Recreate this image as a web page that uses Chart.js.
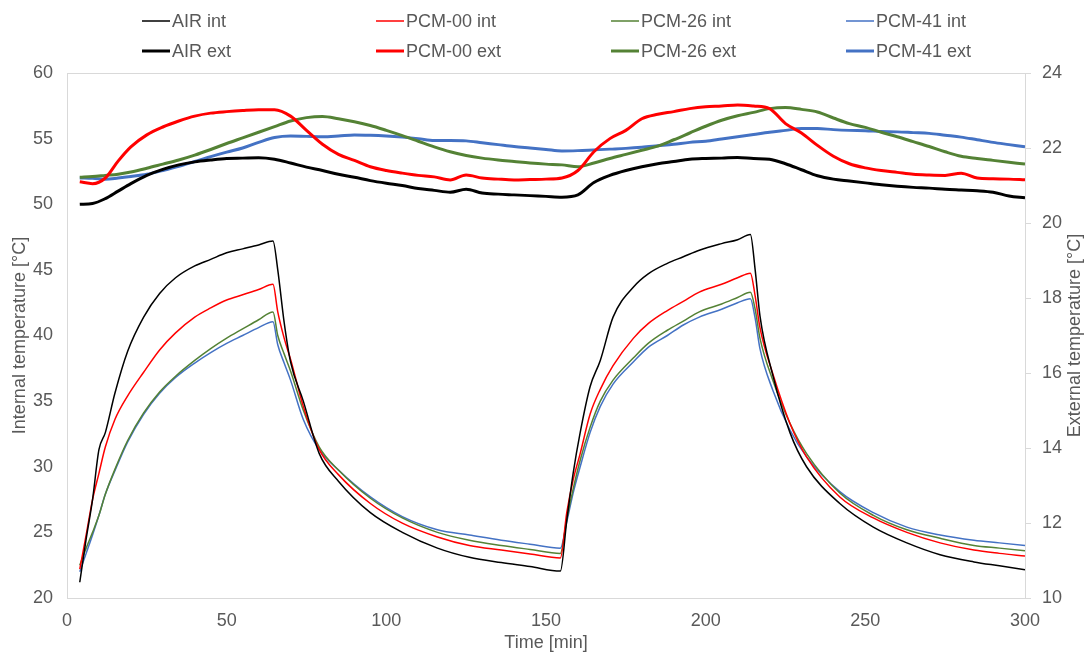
<!DOCTYPE html>
<html>
<head>
<meta charset="utf-8">
<script src="https://cdn.jsdelivr.net/npm/chart.js@4/dist/chart.umd.min.js"></script>
<style>
  html, body { margin: 0; padding: 0; background: #fff; }
  #wrap { width: 1086px; height: 654px; position: relative; }
</style>
</head>
<body>
<div id="wrap"><canvas id="chart"></canvas></div>
<script>
/* Internal temperatures (left axis), time in minutes */
const timeInt = [4, 6, 8, 10, 12, 15, 19, 24, 29, 34, 40, 45, 50, 55, 60, 64.5, 66, 68, 70, 74, 79, 85, 95, 105, 116, 126, 136, 145, 154.5,
    156.5, 158.5, 160.7, 163.8, 167, 171, 177.4, 182, 188, 193, 198, 205, 210, 214, 215.5, 217, 221, 226.4, 231.6, 242, 252.5, 263, 273.4, 284, 292, 300];
const airInt = [21.2, 24.5, 27.5, 31.3, 32.6, 35.6, 38.8, 41.4, 43.2, 44.4, 45.3, 45.8, 46.3, 46.6, 46.9, 47.2, 45.0, 41.0, 38.0, 35.0, 31.0, 28.9, 26.5, 25.0, 23.8, 23.1, 22.7, 22.4, 22.05,
    25.9, 29.5, 32.6, 36.1, 38.1, 41.4, 43.7, 44.7, 45.5, 46.0, 46.5, 47.0, 47.3, 47.7, 45.0, 41.5, 37.0, 32.6, 30.0, 27.2, 25.4, 24.2, 23.3, 22.75, 22.45, 22.15];
const pcm00Int = [22.2, 24.8, 27.5, 29.5, 31.5, 33.6, 35.4, 37.2, 38.9, 40.2, 41.4, 42.1, 42.7, 43.1, 43.5, 43.9, 41.8, 39.8, 38.2, 34.6, 31.3, 29.4, 27.2, 25.7, 24.65, 24.0, 23.65, 23.35, 23.05,
    26.5, 29.0, 31.0, 34.0, 35.9, 37.7, 39.8, 40.9, 41.9, 42.6, 43.3, 43.9, 44.4, 44.75, 43.0, 40.6, 37.1, 33.3, 30.75, 27.7, 26.1, 25.0, 24.2, 23.65, 23.4, 23.2];
const pcm26Int = [22.5, 23.8, 25.0, 26.3, 27.9, 29.8, 32.0, 34.1, 35.7, 36.9, 38.1, 39.0, 39.8, 40.5, 41.2, 41.8, 40.0, 38.6, 37.3, 34.3, 31.5, 29.75, 27.6, 26.1, 25.0, 24.4, 24.0, 23.7, 23.4,
    26.0, 28.3, 30.5, 33.0, 35.0, 36.6, 38.3, 39.4, 40.4, 41.1, 41.8, 42.4, 42.9, 43.3, 42.0, 39.8, 36.6, 33.3, 31.0, 28.0, 26.3, 25.2, 24.55, 24.0, 23.8, 23.6];
const pcm41Int = [22.0, 23.4, 24.8, 26.3, 27.9, 29.7, 31.9, 34.0, 35.6, 36.8, 37.9, 38.7, 39.4, 40.0, 40.6, 41.05, 39.3, 37.9, 36.6, 33.6, 31.3, 29.75, 27.7, 26.2, 25.2, 24.8, 24.4, 24.1, 23.8,
    25.8, 28.0, 30.0, 32.6, 34.6, 36.3, 38.0, 39.1, 40.0, 40.8, 41.4, 42.0, 42.5, 42.8, 41.3, 39.0, 35.85, 32.8, 30.75, 28.1, 26.5, 25.4, 24.8, 24.4, 24.2, 24.0];

/* External temperatures (right axis) */
const timeExt = [4, 8, 12, 16, 20, 25, 30, 35, 40, 45, 50, 55, 60, 65, 70, 75, 80, 85, 90, 95, 100, 105, 110, 115, 120, 125, 130, 135, 140, 145, 150,
    155, 160, 165, 170, 175, 180, 185, 190, 195, 200, 205, 210, 215, 220, 225, 230, 235, 240, 245, 250, 255, 260, 265, 270, 275, 280, 285, 290, 295, 300];
const airExt = [20.50, 20.52, 20.65, 20.85, 21.05, 21.27, 21.43, 21.55, 21.63, 21.68, 21.72, 21.73, 21.74, 21.70, 21.60, 21.49, 21.40, 21.30, 21.22, 21.13, 21.06, 21.00, 20.92, 20.87, 20.82, 20.90, 20.80, 20.77, 20.75, 20.73, 20.71,
    20.69, 20.75, 21.08, 21.27, 21.40, 21.50, 21.58, 21.64, 21.70, 21.72, 21.73, 21.75, 21.72, 21.70, 21.58, 21.42, 21.26, 21.17, 21.12, 21.07, 21.02, 20.98, 20.95, 20.93, 20.90, 20.88, 20.86, 20.82, 20.72, 20.67];
const pcm00Ext = [21.10, 21.05, 21.20, 21.65, 22.03, 22.35, 22.56, 22.72, 22.85, 22.93, 22.97, 23.00, 23.02, 23.02, 22.85, 22.47, 22.10, 21.83, 21.67, 21.50, 21.40, 21.33, 21.27, 21.23, 21.15, 21.28, 21.20, 21.17, 21.15, 21.16, 21.17,
    21.20, 21.40, 21.90, 22.25, 22.47, 22.78, 22.90, 22.97, 23.05, 23.10, 23.12, 23.15, 23.12, 23.05, 22.65, 22.40, 22.07, 21.78, 21.58, 21.47, 21.40, 21.35, 21.30, 21.28, 21.27, 21.33, 21.20, 21.18, 21.17, 21.15];
const pcm26Ext = [21.22, 21.24, 21.27, 21.30, 21.36, 21.46, 21.57, 21.68, 21.81, 21.96, 22.12, 22.27, 22.42, 22.57, 22.72, 22.81, 22.84, 22.78, 22.70, 22.60, 22.47, 22.33, 22.18, 22.03, 21.90, 21.80, 21.73, 21.68, 21.64, 21.60, 21.57,
    21.55, 21.50, 21.60, 21.72, 21.83, 21.94, 22.05, 22.22, 22.40, 22.58, 22.74, 22.86, 22.95, 23.05, 23.08, 23.03, 22.96, 22.80, 22.65, 22.55, 22.42, 22.30, 22.17, 22.04, 21.90, 21.78, 21.72, 21.67, 21.62, 21.57];
const pcm41Ext = [21.20, 21.19, 21.17, 21.20, 21.24, 21.30, 21.40, 21.51, 21.64, 21.77, 21.89, 22.00, 22.15, 22.28, 22.32, 22.31, 22.30, 22.32, 22.35, 22.34, 22.32, 22.29, 22.25, 22.20, 22.20, 22.19, 22.14, 22.09, 22.04, 22.00, 21.96,
    21.92, 21.93, 21.95, 21.97, 21.99, 22.02, 22.06, 22.10, 22.15, 22.18, 22.24, 22.30, 22.36, 22.42, 22.47, 22.52, 22.52, 22.49, 22.47, 22.46, 22.44, 22.43, 22.41, 22.39, 22.34, 22.29, 22.22, 22.15, 22.09, 22.03];

const seriesNames = ["AIR int", "PCM-00 int", "PCM-26 int", "PCM-41 int", "AIR ext", "PCM-00 ext", "PCM-26 ext", "PCM-41 ext"];
const seriesColors = ["#000000", "#ff0000", "#548235", "#4472c4"];

const FONT = "'Liberation Sans', Arial, sans-serif";
const TEXT = "#595959";
const AXIS = "#d9d9d9";

function pts(times, vals) {
    return times.map((t, i) => ({ x: t, y: vals[i] }));
}

const intData = [airInt, pcm00Int, pcm26Int, pcm41Int];
const extData = [airExt, pcm00Ext, pcm26Ext, pcm41Ext];

const datasets = [];
intData.forEach((vals, i) => {
    datasets.push({
        label: seriesNames[i], data: pts(timeInt, vals), yAxisID: "y",
        borderColor: seriesColors[i], borderWidth: 1.5
    });
});
extData.forEach((vals, i) => {
    datasets.push({
        label: seriesNames[i + 4], data: pts(timeExt, vals), yAxisID: "y1",
        borderColor: seriesColors[i], borderWidth: 3
    });
});

/* Two-row legend, plot border and right-hand title */
const decorPlugin = {
    id: "decor",
    beforeDatasetsDraw(chart) {
        const { ctx, chartArea: a } = chart;
        ctx.save();
        ctx.strokeStyle = AXIS;
        ctx.lineWidth = 1;
        ctx.strokeRect(Math.round(a.left) + 0.5, Math.round(a.top) + 0.5, Math.round(a.right - a.left), Math.round(a.bottom - a.top));
        ctx.restore();
    },
    afterDraw(chart) {
        const { ctx, chartArea: a } = chart;
        const cols = [142, 376, 611, 846];
        const rows = [21, 51];
        ctx.save();
        ctx.font = "18px " + FONT;
        ctx.textBaseline = "middle";
        ctx.fillStyle = TEXT;
        chart.data.datasets.forEach((ds, i) => {
            const x = cols[i % 4];
            const y = rows[Math.floor(i / 4)];
            ctx.strokeStyle = ds.borderColor;
            ctx.lineWidth = ds.borderWidth;
            ctx.beginPath();
            ctx.moveTo(x, y);
            ctx.lineTo(x + 28, y);
            ctx.stroke();
            ctx.fillText(ds.label, x + 30, y + 1);
        });
        ctx.translate(1075, (a.top + a.bottom) / 2);
        ctx.rotate(-Math.PI / 2);
        ctx.textAlign = "center";
        ctx.fillText("External temperature [°C]", 0, 0);
        ctx.restore();
    }
};

new Chart(document.getElementById("chart"), {
    type: "line",
    data: { datasets },
    options: {
        responsive: true,
        maintainAspectRatio: false,
        animation: false,
        parsing: false,
        layout: { padding: { top: 73, left: 0, right: 0, bottom: 0 } },
        elements: {
            point: { radius: 0 },
            line: { cubicInterpolationMode: "monotone", fill: false }
        },
        plugins: { legend: { display: false }, tooltip: { enabled: false } },
        scales: {
            x: {
                type: "linear", min: 0, max: 300,
                grid: { display: false, drawTicks: false },
                border: { display: false },
                ticks: { stepSize: 50, color: TEXT, font: { family: FONT, size: 18 }, padding: 12 },
                title: { display: true, text: "Time [min]", color: TEXT, font: { family: FONT, size: 18 }, padding: { top: 0, bottom: 0 } },
                afterFit(scale) { scale.height = 56; }
            },
            y: {
                position: "left", min: 20, max: 60,
                grid: { display: false, drawTicks: false },
                border: { display: false },
                ticks: { stepSize: 5, color: TEXT, font: { family: FONT, size: 18 }, padding: 14 },
                title: { display: true, text: "Internal temperature [°C]", color: TEXT, font: { family: FONT, size: 18 }, padding: { top: 9, bottom: 0 } },
                afterFit(scale) { scale.width = 67; }
            },
            y1: {
                position: "right", min: 10, max: 24,
                grid: { drawOnChartArea: false, drawTicks: true, tickLength: 6, color: AXIS },
                border: { display: false },
                ticks: { stepSize: 2, color: TEXT, font: { family: FONT, size: 18 }, padding: 11 },
                afterFit(scale) { scale.width = 61; }
            }
        }
    },
    plugins: [decorPlugin]
});
</script>
</body>
</html>
